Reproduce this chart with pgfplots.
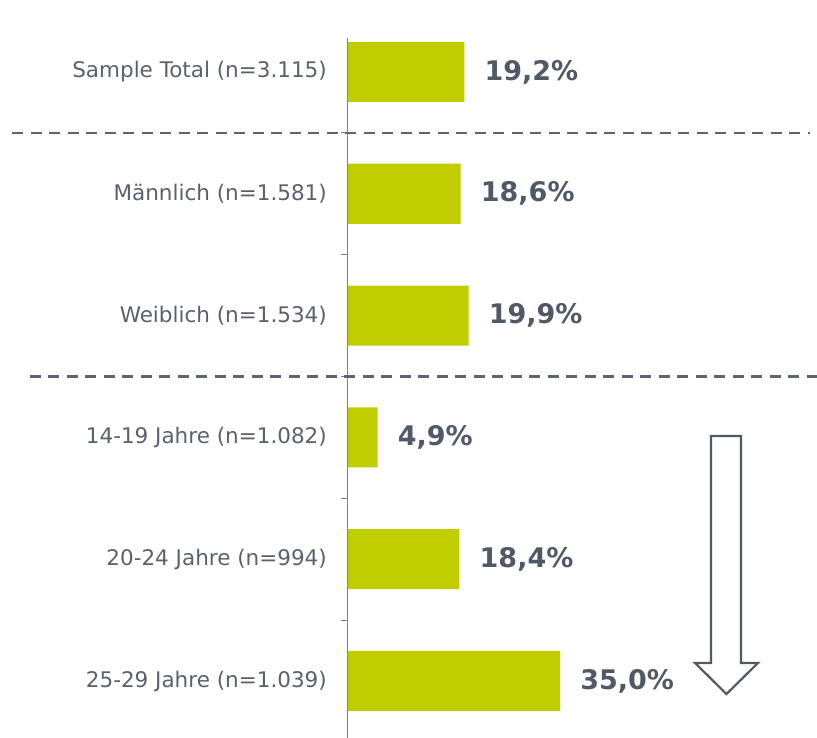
\documentclass[border=0pt]{standalone}
\usepackage{pgfplots}
\pgfplotsset{compat=1.18}
\usepackage{fontspec}
\setmainfont{DejaVu Sans}
\definecolor{barc}{RGB}{192,206,0}
\definecolor{txt}{RGB}{88,98,110}
\definecolor{val}{RGB}{80,90,102}
\definecolor{dsh}{RGB}{92,102,114}
\definecolor{axc}{RGB}{120,128,138}
\begin{document}
\begin{tikzpicture}
\useasboundingbox (-348pt,0pt) rectangle (469pt,738pt);
\begin{axis}[
  at={(0pt,0pt)}, anchor=south west,
  scale only axis, width=469pt, height=700pt,
  xbar, bar width=0.493,
  xmin=0, xmax=77.4, ymin=-0.468, ymax=5.279,
  axis x line=none, axis y line=left,
  y axis line style={-, draw=axc, line width=1pt},
  ytick={0,...,5},
  yticklabels={25-29 Jahre (n=1.039), 20-24 Jahre (n=994), 14-19 Jahre (n=1.082), Weiblich (n=1.534), Männlich (n=1.581), Sample Total (n=3.115)},
  major tick length=0pt,
  minor ytick={0.5,1.5,2.5,3.5,4.5},
  minor tick length=7pt,
  tick align=outside,
  tick style={draw=axc, line width=0.8pt},
  yticklabel style={font=\fontsize{21.5}{26}\selectfont, text=txt, inner sep=0pt, xshift=-21pt},
  clip=false,
  /pgf/number format/assume math mode=true,
  nodes near coords={\pgfmathprintnumber[fixed,fixed zerofill,precision=1,use comma,assume math mode=true]{\pgfplotspointmeta}\%},
  nodes near coords style={anchor=west, inner sep=0pt, xshift=20pt, font=\bfseries\fontsize{27}{32}\selectfont, text=val},
]
\addplot[draw=none, fill=barc] coordinates {(19.2,5) (18.6,4) (19.9,3) (4.9,2) (18.4,1) (35.0,0)};
\draw[dsh, line width=2.5pt, dash pattern=on 11pt off 7.5pt] (axis cs:-55.4,4.5) -- (axis cs:76.2,4.5);
\draw[dsh, line width=2.5pt, dash pattern=on 11pt off 7.5pt] (axis cs:-52.5,2.5) -- (axis cs:77.6,2.5);
\draw[val, line width=2.2pt, line join=miter] (axis cs:59.9,2.011) -- (axis cs:64.86,2.011) -- (axis cs:64.86,0.148) -- (axis cs:67.66,0.148) -- (axis cs:62.46,-0.107) -- (axis cs:57.27,0.148) -- (axis cs:59.9,0.148) -- cycle;
\end{axis}
\end{tikzpicture}
\end{document}
